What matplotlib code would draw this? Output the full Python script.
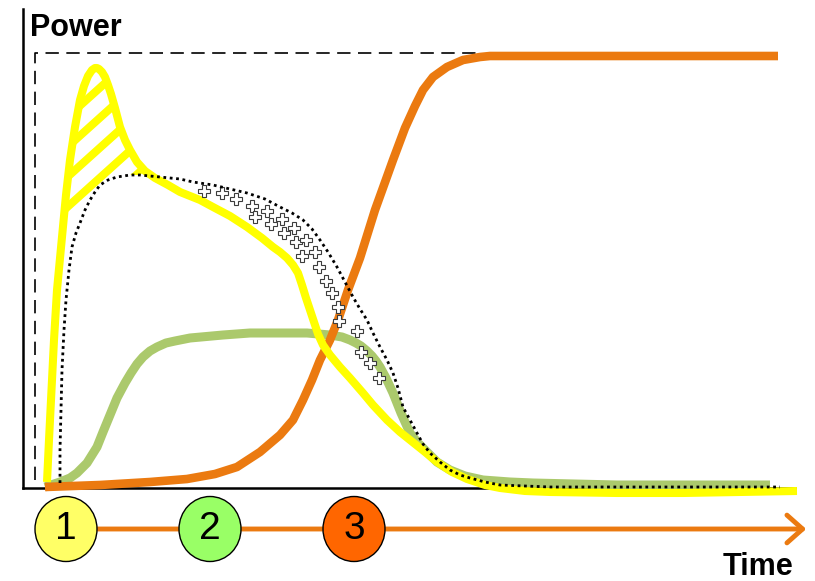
import matplotlib.pyplot as plt
from matplotlib.patches import Ellipse, Polygon, FancyArrowPatch

plt.rcParams['font.family'] = ['Liberation Sans', 'DejaVu Sans']

# power curves over time (arbitrary units)
yellow_t = [24, 26, 28, 31, 34, 39, 43, 47, 52, 57, 61, 65, 69, 72, 74, 76, 79, 82,
            85, 88, 92, 97, 102, 107, 114, 122, 132, 145, 157, 177, 190, 207, 224,
            239, 250, 257, 264, 270, 275, 279, 283, 287, 291, 295, 300, 307, 317,
            327, 340, 350, 364, 377, 387, 402, 414, 429, 444, 462, 477, 502, 527,
            594, 660, 717, 774]
yellow_p = [6, 48, 88, 148, 198, 251, 293, 328, 361, 388, 402, 412, 418, 420, 420,
            419, 416, 411, 403, 394, 380, 361, 348, 338, 326, 317, 310, 303, 296,
            288, 281, 272, 261, 250, 241, 236, 230, 223, 215, 203, 190, 178, 166,
            154, 143, 133, 121, 110, 95, 83, 68, 56, 48, 36, 26, 16, 9, 3, 0, -3,
            -4, -5, -5, -4, -3]

dotted_t = [37, 37, 38, 39, 41, 43, 46, 49, 53, 57, 62, 67, 72, 77, 85, 94, 107,
            117, 137, 157, 170, 190, 207, 224, 242, 257, 269, 280, 289, 297, 305,
            314, 322, 330, 337, 344, 350, 357, 364, 370, 375, 380, 387, 394, 400,
            407, 417, 427, 437, 447, 462, 477, 502, 527, 757]
dotted_p = [5, 38, 78, 118, 158, 188, 218, 241, 255, 265, 278, 288, 296, 303, 308,
            311, 313, 313, 311, 309, 306, 303, 299, 295, 289, 281, 275, 268, 259,
            248, 236, 221, 206, 191, 179, 168, 155, 141, 128, 115, 100, 81, 68, 55,
            44, 35, 26, 18, 13, 10, 6, 3, 2, 1, 1]

green_t = [22, 37, 47, 54, 64, 74, 80, 87, 94, 102, 108, 114, 120, 127, 134, 143,
           152, 167, 200, 227, 250, 284, 307, 319, 327, 333, 338, 344, 349, 353, 357,
           363, 370, 378, 387, 395, 404, 414, 427, 442, 460, 487, 510, 594, 747]
green_p = [1, 6, 10, 15, 25, 41, 56, 73, 90, 105, 115, 124, 131, 137, 141, 145,
           147, 150, 153, 155, 155, 155, 153, 151, 148, 145, 142, 137, 132, 127, 121,
           110, 95, 75, 55, 45, 36, 26, 18, 12, 8, 6, 5, 3, 3]

orange_t = [22, 77, 127, 164, 192, 214, 237, 257, 270, 280, 289, 297, 307, 315, 325,
            337, 352, 370, 382, 392, 400, 410, 424, 440, 457, 467, 755]
orange_p = [1, 3, 6, 9, 14, 21, 36, 53, 68, 88, 108, 128, 148, 168, 198, 230, 278,
            328, 360, 382, 398, 411, 421, 428, 431, 432, 432]

# "+" marks between the dotted envelope and the yellow curve
plus_t = [181, 199, 213, 229, 232, 244, 248, 259, 261, 271, 273, 283, 279, 292, 296,
          303, 309, 315, 316, 334, 338, 347, 356]
plus_p = [297, 295, 289, 282, 271, 277, 264, 269, 255, 260, 246, 248, 232, 236, 221,
          207, 195, 181, 167, 157, 136, 125, 110]

# hatch strokes under the yellow peak: intercepts and start times
hatch_b = [211, 241, 271, 301, 331]
hatch_t0 = [95, 35, 35, 35, 35]
hatch_slope = 0.9

phases = ['1', '2', '3']
phase_t = [43, 187, 331]
phase_colors = ['#FFFF66', '#99FF66', '#FF6600']

YELLOW = '#FFFF00'
GREEN = '#ABC96C'
ORANGE = '#EB7A10'

fig = plt.figure(figsize=(8.15, 5.81), dpi=100)
ax = fig.add_axes([23 / 815, 93 / 581, 772 / 815, 479 / 581])
ax.set_xlim(0, 772)
ax.set_ylim(0, 479)
ax.set_xticks([])
ax.set_yticks([])
ax.spines['top'].set_visible(False)
ax.spines['right'].set_visible(False)
ax.spines['left'].set_linewidth(1.8)
ax.spines['bottom'].set_linewidth(1.8)

# dashed frame
ax.plot([12, 12, 457], [8, 435, 435], color='black', lw=1.2, dashes=(8, 4.5))

line_kw = dict(solid_capstyle='butt', solid_joinstyle='round', clip_on=False)
ax.plot(green_t, green_p, color=GREEN, lw=6.5, zorder=3, **line_kw)
ax.plot(orange_t, orange_p, color=ORANGE, lw=6.2, zorder=4, **line_kw)
ax.plot(yellow_t, yellow_p, color=YELLOW, lw=5.8, zorder=5, **line_kw)

# hatching clipped to the area where yellow exceeds the dotted envelope
n_y = sum(1 for t in yellow_t if t <= 122)
n_d = sum(1 for t in dotted_t if t <= 117)
region = list(zip(yellow_t[:n_y], yellow_p[:n_y])) + \
    list(zip(dotted_t[:n_d], dotted_p[:n_d]))[::-1]
clip = Polygon(region, closed=True, transform=ax.transData, fill=False, visible=False)
ax.add_patch(clip)
for b, t0 in zip(hatch_b, hatch_t0):
    ln, = ax.plot([t0, 135], [b + hatch_slope * t0, b + hatch_slope * 135],
                  color=YELLOW, lw=5.8, solid_capstyle='butt', zorder=5)
    ln.set_clip_path(clip)

ax.plot(plus_t, plus_p, ls='none', marker='P', ms=8.5, mfc='white', mec='#3c3c3c',
        mew=0.8, zorder=6)
ax.plot(dotted_t, dotted_p, color='black', lw=2.0, ls=(0, (1, 1.3)), zorder=7,
        clip_on=False)

ax.text(7, 452, 'Power', fontsize=22, fontweight='bold', ha='left', va='baseline')

# timeline with phase markers
tl = fig.add_axes([23 / 815, 0, 772 / 815, 93 / 581])
tl.set_xlim(0, 772)
tl.set_ylim(0, 93)
tl.axis('off')
arrow = FancyArrowPatch((phase_t[0], 52), (786, 52),
                        arrowstyle='->,head_length=0.45,head_width=0.4',
                        mutation_scale=25, color=ORANGE, lw=3.5, clip_on=False)
tl.add_patch(arrow)
for lab, t, c in zip(phases, phase_t, phase_colors):
    tl.add_patch(Ellipse((t, 52), 62, 65, facecolor=c, edgecolor='black', lw=1, zorder=3))
    tl.text(t, 52, lab, fontsize=28, ha='center', va='center', zorder=4)
tl.text(770, 6, 'Time', fontsize=22, fontweight='bold', ha='right', va='baseline')

fig.savefig('out.png', dpi=100)
